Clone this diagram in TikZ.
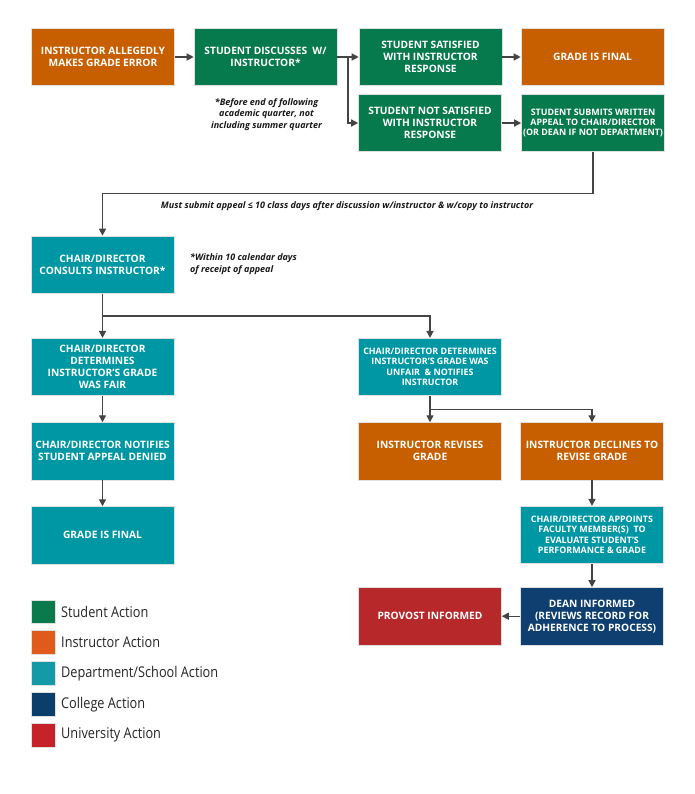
\documentclass[tikz,border=0pt]{standalone}
\usepackage{fontspec}
\setmainfont{Open Sans}
\newfontfamily\legfont[FakeStretch=0.86]{Open Sans}
\usetikzlibrary{arrows.meta,calc}
\definecolor{cgreen}{HTML}{077A4D}
\definecolor{corange}{HTML}{C75F00}
\definecolor{cteal}{HTML}{0097A5}
\definecolor{cnavy}{HTML}{0F3F70}
\definecolor{cred}{HTML}{B7282A}
\definecolor{lgreen}{HTML}{0A7A4C}
\definecolor{lorange}{HTML}{E05A1B}
\definecolor{lteal}{HTML}{149AA6}
\definecolor{lnavy}{HTML}{0C3E6B}
\definecolor{lred}{HTML}{C62229}
\definecolor{lineg}{HTML}{444444}
\tikzset{
  box/.style={draw=black!12, line width=0.6pt, minimum width=143pt, minimum height=57.5pt,
    inner sep=0pt, text=white, align=center,
    font=\fontsize{10.2}{12}\selectfont\bfseries},
  sbox/.style={box, font=\fontsize{8.9}{10.4}\selectfont\bfseries},
  conn/.style={draw=lineg, line width=1.4pt},
  arr/.style={conn, -{Triangle[length=7pt,width=7pt]}},
  note/.style={font=\fontsize{9}{11.8}\selectfont\bfseries\itshape, text=black!90, inner sep=0pt},
  swatch/.style={draw=black!12, line width=0.6pt, minimum width=23.5pt, minimum height=23.5pt, inner sep=0pt},
  legtext/.style={font=\legfont\fontsize{14.8}{16}\selectfont, text=black!85, anchor=west, inner sep=0pt}
}
\begin{document}
\begin{tikzpicture}[x=1pt,y=-1pt]
\useasboundingbox[fill=white] (0,0) rectangle (694,794);
% boxes
\node[box, fill=corange] (b1) at (103,57) {INSTRUCTOR ALLEGEDLY\\MAKES GRADE ERROR};
\node[box, fill=cgreen] (b2) at (265.5,57) {STUDENT DISCUSSES\ \ W/\\INSTRUCTOR*};
\node[box, fill=cgreen] (b3) at (430.5,57) {STUDENT SATISFIED\\WITH INSTRUCTOR\\RESPONSE};
\node[box, fill=corange] (b4) at (592.5,57) {GRADE IS FINAL};
\node[box, fill=cgreen] (b5) at (430,123) {STUDENT NOT SATISFIED\\WITH INSTRUCTOR\\RESPONSE};
\node[sbox, fill=cgreen] (b6) at (593,123) {STUDENT SUBMITS WRITTEN\\APPEAL TO CHAIR/DIRECTOR\\(OR DEAN IF NOT DEPARTMENT)};
\node[box, fill=cteal] (b7) at (102.5,264.7) {CHAIR/DIRECTOR\\CONSULTS INSTRUCTOR*};
\node[box, fill=cteal] (b8) at (102.5,367) {CHAIR/DIRECTOR\\DETERMINES\\INSTRUCTOR'S GRADE\\WAS FAIR};
\node[sbox, fill=cteal] (b9) at (430,367) {CHAIR/DIRECTOR DETERMINES\\INSTRUCTOR'S GRADE WAS\\UNFAIR \ \& NOTIFIES\\INSTRUCTOR};
\node[box, fill=cteal] (b10) at (102.5,451.3) {CHAIR/DIRECTOR NOTIFIES\\STUDENT APPEAL DENIED};
\node[box, fill=corange] (b11) at (430,451.3) {INSTRUCTOR REVISES\\GRADE};
\node[box, fill=corange] (b12) at (592,451.3) {INSTRUCTOR DECLINES TO\\REVISE GRADE};
\node[box, fill=cteal] (b13) at (102.5,535.3) {GRADE IS FINAL};
\node[sbox, fill=cteal] (b14) at (592,535) {CHAIR/DIRECTOR APPOINTS\\FACULTY MEMBER(S)\ \ TO\\EVALUATE STUDENT'S\\PERFORMANCE \& GRADE};
\node[box, fill=cred] (b15) at (430,616.2) {PROVOST INFORMED};
\node[box, fill=cnavy] (b16) at (592,616.2) {DEAN INFORMED\\(REVIEWS RECORD FOR\\ADHERENCE TO PROCESS)};
% notes
\node[note, align=center] (n1) at (266.5,114.5) {*Before end of following\\academic quarter, not\\including summer quarter};
\node[note, align=left, anchor=north west] (n2) at (190,253.5) {*Within 10 calendar days\\of receipt of appeal};
\node[note] (n3) at (347,206.5) {Must submit appeal ≤ 10 class days after discussion w/instructor \& w/copy to instructor};
% junction coordinates
\coordinate (j1) at (348,57);
\coordinate (j2) at (102.5,316);
\coordinate (j3) at (430,409.3);
\coordinate (r1) at (593,193.5);
\coordinate (r2) at (102.5,193.5);
% connectors
\draw[arr] (b1.east) -- (b2.west);
\draw[conn] (b2.east) -- (j1);
\draw[arr] (j1) -- (b3.west);
\draw[arr] (j1) |- (b5.west);
\draw[arr] (b3.east) -- (b4.west);
\draw[arr] (b5.east) -- (b6.west);
\draw[arr] (b6.south) -- (r1) -- (r2) -- (b7.north);
\draw[conn] (b7.south) -- (j2);
\draw[arr] (j2) -- (b8.north);
\draw[arr] (j2) -| (b9.north);
\draw[arr] (b8.south) -- (b10.north);
\draw[arr] (b10.south) -- (b13.north);
\draw[conn] (b9.south) -- (j3);
\draw[arr] (j3) -- (b11.north);
\draw[arr] (j3) -| (b12.north);
\draw[arr] (b12.south) -- (b14.north);
\draw[arr] (b14.south) -- (b16.north);
\draw[arr] (b16.west) -- (b15.east);
% legend
\node[swatch, fill=lgreen] (s1) at (43.3,611.7) {};
\node[swatch, fill=lorange] (s2) at (43.3,642.4) {};
\node[swatch, fill=lteal] (s3) at (43.3,673.3) {};
\node[swatch, fill=lnavy] (s4) at (43.3,704.3) {};
\node[swatch, fill=lred] (s5) at (43.3,735.2) {};
\node[legtext] (t1) at (61,611.7) {Student Action};
\node[legtext] (t2) at (61,642.4) {Instructor Action};
\node[legtext] (t3) at (61,673.3) {Department/School Action};
\node[legtext] (t4) at (61,704.3) {College Action};
\node[legtext] (t5) at (61,735.2) {University Action};
\end{tikzpicture}
\end{document}
